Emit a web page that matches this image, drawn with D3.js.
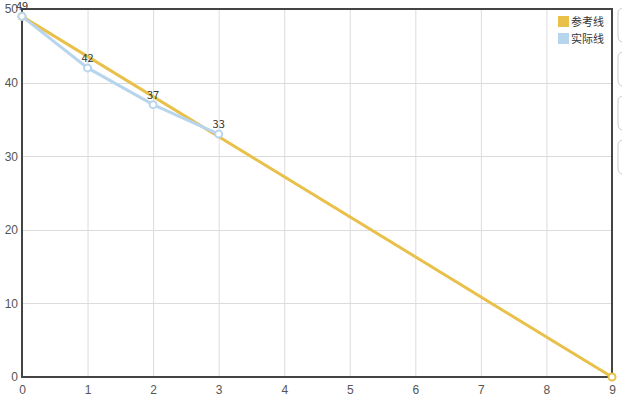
<!DOCTYPE html>
<html><head><meta charset="utf-8">
<script src="https://cdn.jsdelivr.net/npm/d3@7/dist/d3.min.js"></script>
<style>html,body{margin:0;padding:0;background:#fff;}svg{display:block;font-family:"Microsoft YaHei","Noto Sans CJK SC",sans-serif;}</style>
</head><body>
<svg id="c" width="622" height="401"></svg>
<script>
const seriesNames = ["参考线", "实际线"];
const refX = [0, 9];
const refY = [49, 0];
const actX = [0, 1, 2, 3];
const actY = [49, 42, 37, 33];
const xTicks = [0,1,2,3,4,5,6,7,8,9];
const yTicks = [0,10,20,30,40,50];
const colors = ["#e8c04a", "#b8d5ee"];

const svg = d3.select("#c");
const L = 22, R = 612, T = 9, B = 377;
const x = d3.scaleLinear().domain([0, 9]).range([L, R]);
const y = d3.scaleLinear().domain([0, 50]).range([B, T]);

// grid
svg.append("g").selectAll("line").data(xTicks.slice(1)).join("line")
  .attr("x1", d => x(d)+0.5).attr("x2", d => x(d)+0.5).attr("y1", T).attr("y2", B)
  .attr("stroke", "#dcdcdc").attr("stroke-width", 1);
svg.append("g").selectAll("line").data(yTicks.slice(1)).join("line")
  .attr("x1", L).attr("x2", R).attr("y1", d => Math.round(y(d))+0.5).attr("y2", d => Math.round(y(d))+0.5)
  .attr("stroke", "#dcdcdc").attr("stroke-width", 1);

// frame
svg.append("rect").attr("x", L).attr("y", T).attr("width", R-L).attr("height", B-T)
  .attr("fill", "none").attr("stroke", "#444").attr("stroke-width", 2);

// axes labels
const xAxis = d3.axisBottom(x).tickValues(xTicks).tickSize(0).tickPadding(8).tickFormat(d3.format("d"));
const gx = svg.append("g").attr("transform", `translate(0,${B})`).call(xAxis);
gx.select(".domain").remove();
gx.selectAll("text").attr("fill", "#555").attr("font-size", 12);
const yAxis = d3.axisLeft(y).tickValues(yTicks).tickSize(0).tickPadding(4).tickFormat(d3.format("d"));
const gy = svg.append("g").attr("transform", `translate(${L},0)`).call(yAxis);
gy.select(".domain").remove();
gy.selectAll("text").attr("fill", "#555").attr("font-size", 12);

const line = d3.line().x(d => x(d[0])).y(d => y(d[1]));
const refData = refX.map((v, i) => [v, refY[i]]);
const actData = actX.map((v, i) => [v, actY[i]]);

svg.append("path").datum(refData).attr("d", line).attr("fill", "none")
  .attr("stroke", colors[0]).attr("stroke-width", 3);
svg.append("g").selectAll("circle").data(refData).join("circle")
  .attr("cx", d => x(d[0])).attr("cy", d => y(d[1])).attr("r", 3.5)
  .attr("fill", "#fff").attr("stroke", colors[0]).attr("stroke-width", 2);

svg.append("path").datum(actData).attr("d", line).attr("fill", "none")
  .attr("stroke", colors[1]).attr("stroke-width", 3);
svg.append("g").selectAll("circle").data(actData).join("circle")
  .attr("cx", d => x(d[0])).attr("cy", d => y(d[1])).attr("r", 3.5)
  .attr("fill", "#fff").attr("stroke", colors[1]).attr("stroke-width", 2);
svg.append("g").selectAll("text").data(actData).join("text")
  .attr("x", d => x(d[0])).attr("y", d => y(d[1]) - 6)
  .attr("text-anchor", "middle").attr("font-size", 11).attr("fill", "#333")
  .text(d => d[1]);

// legend
const lg = svg.append("g");
seriesNames.forEach((n, i) => {
  const yy = 16 + i * 17;
  lg.append("rect").attr("x", 558).attr("y", yy).attr("width", 11).attr("height", 11)
    .attr("fill", colors[i]);
  lg.append("text").attr("x", 571).attr("y", yy + 10).attr("font-size", 11)
    .attr("fill", "#333").text(n);
});

// toolbox stubs at right edge
[8, 52, 96, 140].forEach(t => {
  svg.append("rect").attr("x", 618).attr("y", t).attr("width", 20).attr("height", 34)
    .attr("rx", 5).attr("fill", "#fff").attr("stroke", "#ccc").attr("stroke-width", 1);
});
</script>
</body></html>
